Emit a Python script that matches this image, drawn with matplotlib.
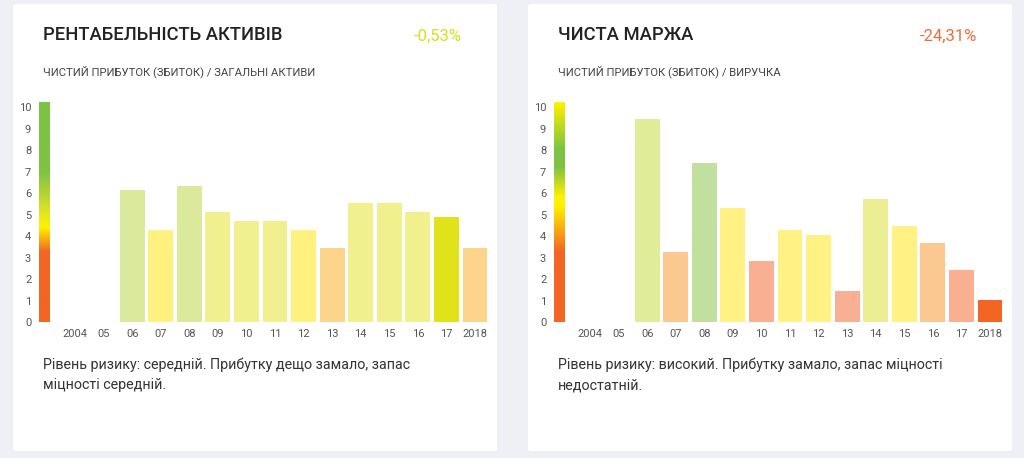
import numpy as np
import matplotlib.pyplot as plt
from matplotlib.colors import LinearSegmentedColormap
from matplotlib.patches import FancyBboxPatch

plt.rcParams['font.family'] = ['Roboto', 'DejaVu Sans']

years = ['2004', '05', '06', '07', '08', '09', '10', '11', '12', '13', '14', '15', '16', '17', '2018']

# Left panel: return on assets score
roa_title = 'РЕНТАБЕЛЬНІСТЬ АКТИВІВ'
roa_value = '-0,53%'
roa_sub = 'ЧИСТИЙ ПРИБУТОК (ЗБИТОК) / ЗАГАЛЬНІ АКТИВИ'
roa_scores = [0, 0, 6.13, 4.28, 6.34, 5.1, 4.68, 4.68, 4.28, 3.44, 5.52, 5.52, 5.1, 4.88, 3.44]
roa_colors = ['#ffffff', '#ffffff', '#dbe99c', '#fff17f', '#dbe99c', '#f0f08f', '#f0f08f', '#f0f08f',
              '#fff17f', '#fdd48c', '#f0f08f', '#f0f08f', '#f0f08f', '#e0e31a', '#fdd48c']
roa_text = 'Рівень ризику: середній. Прибутку дещо замало, запас\nміцності середній.'

# Right panel: net margin score
nm_title = 'ЧИСТА МАРЖА'
nm_value = '-24,31%'
nm_sub = 'ЧИСТИЙ ПРИБУТОК (ЗБИТОК) / ВИРУЧКА'
nm_scores = [0, 0, 9.43, 3.24, 7.4, 5.3, 2.82, 4.28, 4.06, 1.43, 5.72, 4.48, 3.66, 2.42, 1.01]
nm_colors = ['#ffffff', '#ffffff', '#e1ec98', '#fac890', '#c1e0a0', '#fff184', '#f8af92', '#fff184',
             '#fff184', '#f8af92', '#ebee92', '#fff184', '#fac890', '#f8af92', '#f26522']
nm_text = 'Рівень ризику: високий. Прибутку замало, запас міцності\nнедостатній.'

# gradient scales (value, colour)
roa_grad = [(0, '#f26522'), (3.25, '#f26522'), (4.4, '#fff200'), (5.3, '#d4e02a'), (7.0, '#7dc242'), (10.2, '#7dc242')]
nm_grad = [(0, '#f26522'), (3.25, '#f26522'), (5.4, '#fff200'), (5.8, '#fff200'), (7.2, '#7dc242'),
           (8.0, '#7dc242'), (10.2, '#fff200')]

W, H = 1024, 458
fig = plt.figure(figsize=(W / 100, H / 100), dpi=100)
fig.patch.set_facecolor('#eef0f5')


def px(x, y):
    return x / W, 1 - y / H


def panel(x0, title, value, vcolor, sub, scores, colors, grad, text):
    # white card behind everything
    card = FancyBboxPatch(px(x0, 451), 484 / W, 447 / H, boxstyle='round,pad=0,rounding_size=0.004',
                          transform=fig.transFigure, facecolor='white', edgecolor='none', zorder=-5)
    fig.patches.append(card)
    fig.text(*px(x0 + 30, 35), title, fontsize=13.2, fontweight='medium', color='#222222', va='center')
    fig.text(*px(x0 + 449, 36), value, fontsize=12, color=vcolor, va='center', ha='right')
    fig.text(*px(x0 + 30, 72), sub, fontsize=8.1, color='#444444', va='center')
    fig.text(*px(x0 + 30, 375), text, fontsize=10.3, color='#333333', va='center', linespacing=1.5)

    ax = fig.add_axes([(x0 + 21) / W, 1 - 322 / H, 460 / W, 222 / H])
    ax.set_facecolor('none')
    x = np.arange(len(years))
    ax.bar(x, scores, width=0.87, color=colors, zorder=2)

    vals = [g[0] for g in grad]
    cmap = LinearSegmentedColormap.from_list('g', [(v / vals[-1], c) for v, c in grad])
    img = np.linspace(0, 1, 256).reshape(-1, 1)
    ax.imshow(img, cmap=cmap, origin='lower', aspect='auto',
              extent=(-1.26, -0.88, 0, vals[-1]), zorder=2)

    ax.set_xlim(-1.435, 14.665)
    ax.set_ylim(0, 10.33)
    ax.set_xticks(x)
    ax.set_xticklabels(years)
    ax.set_yticks(range(11))
    ax.tick_params(length=0, labelsize=8, labelcolor='#555555')
    ax.tick_params(axis='x', pad=5)
    ax.tick_params(axis='y', pad=2)
    for s in ax.spines.values():
        s.set_visible(False)


panel(13, roa_title, roa_value, '#d4e01a', roa_sub, roa_scores, roa_colors, roa_grad, roa_text)
panel(528, nm_title, nm_value, '#f26a3c', nm_sub, nm_scores, nm_colors, nm_grad, nm_text)

fig.savefig('out.png', dpi=100, facecolor=fig.get_facecolor())
